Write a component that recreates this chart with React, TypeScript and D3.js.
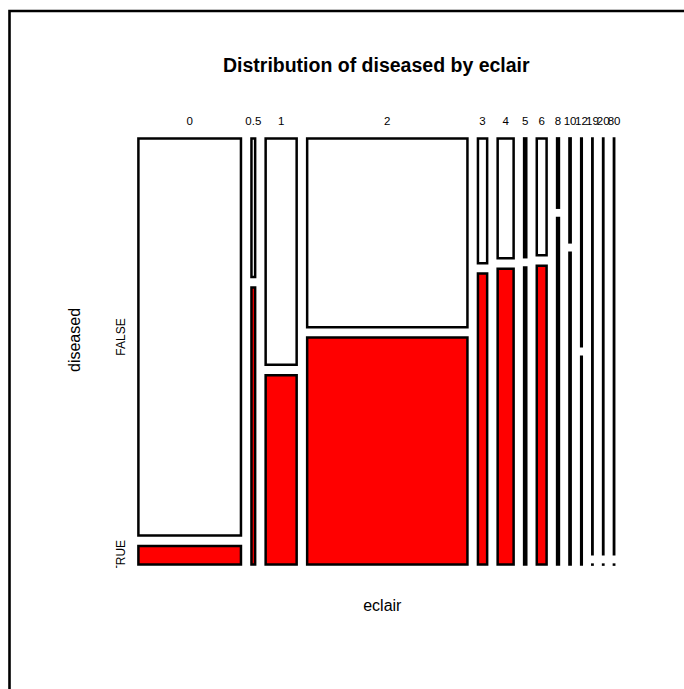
import React from 'react';
import * as d3 from 'd3';

// eclair portions eaten, split by diseased status
const eclairLevels = ['0', '0.5', '1', '2', '3', '4', '5', '6', '8', '10', '12', '19', '20', '80'];
const diseasedLevels = ['FALSE', 'TRUE'];
const falseCounts = [319, 4, 55, 237, 9, 15, 2, 9, 1, 1, 1, 1, 1, 1];
const trueCounts = [15, 8, 46, 285, 21, 37, 5, 23, 5, 3, 1, 0, 0, 0];

const W = 684;
const H = 689;
const left = 138.4;
const right = 614.2;
const top = 138.4;
const bottom = 564.6;
const gapX = 10.5;
const gapY = 10.4;
const font = 'Liberation Sans, Arial, Helvetica, sans-serif';

// zero-height cells are drawn as a short stub, like R does
const boxPath = (x: number, y: number, w: number, h: number) =>
  h > 0 ? `M${x},${y}h${w}v${h}h${-w}Z` : `M${x},${y}h${w}`;

const App: React.FC = () => {
  const totals = eclairLevels.map((_, i) => falseCounts[i] + trueCounts[i]);
  const grand = d3.sum(totals);
  const widthAvail = right - left - gapX * (eclairLevels.length - 1);
  const xScale = d3.scaleLinear().domain([0, grand]).range([0, widthAvail]);
  const heightAvail = bottom - top - gapY;

  let cursor = left;
  const cols = eclairLevels.map((lvl, i) => {
    const w = xScale(totals[i]);
    const x = cursor;
    cursor += w + gapX;
    const yScale = d3.scaleLinear().domain([0, totals[i]]).range([0, heightAvail]);
    const hF = yScale(falseCounts[i]);
    const hT = yScale(trueCounts[i]);
    return { lvl, x, w, hF, hT };
  });

  const c0 = cols[0];
  const falseMid = top + c0.hF / 2;
  const trueMid = top + c0.hF + gapY + c0.hT / 2 + 1;
  const cx = (left + right) / 2;

  return (
    <svg width={W} height={H} style={{ position: 'absolute', left: 0, top: 0, background: '#fff' }}>
      <defs>
        <clipPath id="plotclip">
          <rect x={0} y={0} width={W} height={568} />
        </clipPath>
      </defs>
      <rect x={0} y={0} width={W} height={H} fill="#fff" />
      <path d={`M9.5,${H + 5}V11H${W + 5}`} fill="none" stroke="#000" strokeWidth={2.6} />
      <text x={cx} y={72} textAnchor="middle" fontFamily={font} fontWeight="bold" fontSize={19.5}>
        Distribution of diseased by eclair
      </text>
      {cols.map((c) => (
        <g key={c.lvl}>
          <path
            d={boxPath(c.x, top, c.w, c.hF)}
            fill="#fff"
            stroke="#000"
            strokeWidth={2.5}
            strokeLinecap="square"
          />
          <path
            d={boxPath(c.x, top + c.hF + gapY, c.w, c.hT)}
            fill="#ff0000"
            stroke="#000"
            strokeWidth={2.5}
            strokeLinecap="square"
          />
          <text
            x={c.x + c.w / 2}
            y={125}
            textAnchor="middle"
            fontFamily={font}
            fontSize={11.5}
          >
            {c.lvl}
          </text>
        </g>
      ))}
      <text
        transform={`translate(124.5,${falseMid}) rotate(-90)`}
        textAnchor="middle"
        fontFamily={font}
        fontSize={12}
      >
        {diseasedLevels[0]}
      </text>
      <g clipPath="url(#plotclip)">
        <text
          transform={`translate(124.5,${trueMid}) rotate(-90)`}
          textAnchor="middle"
          fontFamily={font}
          fontSize={12}
        >
          {diseasedLevels[1]}
        </text>
      </g>
      <text x={cx + 6} y={611} textAnchor="middle" fontFamily={font} fontSize={16}>
        eclair
      </text>
      <text
        transform={`translate(80,340) rotate(-90)`}
        textAnchor="middle"
        fontFamily={font}
        fontSize={16}
      >
        diseased
      </text>
    </svg>
  );
};

export default App;
